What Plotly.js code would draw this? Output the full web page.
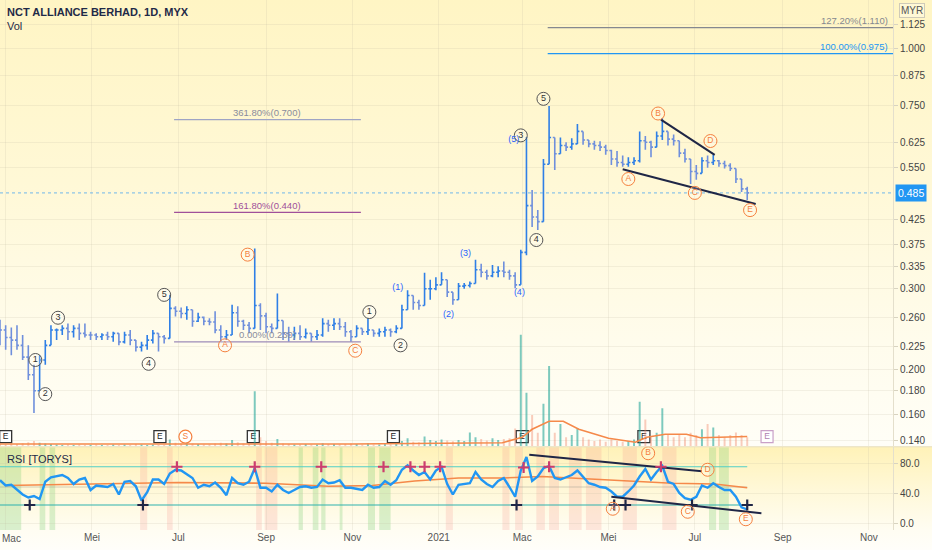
<!DOCTYPE html>
<html><head><meta charset="utf-8">
<script src="https://cdn.plot.ly/plotly-3.0.1.min.js"></script>
<style>
html,body{margin:0;padding:0;background:#fffefa;}
#chart{width:932px;height:550px;background:linear-gradient(to bottom,#fff5c4 0px,#fff8d6 180px,#fffcec 340px,#fffef7 446px,#fff2b8 447px,#fff8d8 490px,#fffdf2 530px,#fffefa 550px);}
</style></head><body><div id="chart"></div><script>
// ---- data ----
const barStepDays = 4; // sampled bars starting 26 Feb 2020
const priceHigh = [0.257,0.250,0.247,0.250,0.238,0.226,0.205,0.215,0.232,0.250,
0.246,0.250,0.252,0.250,0.252,0.252,0.242,0.240,0.240,0.242,
0.242,0.236,0.242,0.244,0.232,0.230,0.238,0.244,0.240,0.238,
0.291,0.275,0.273,0.275,0.270,0.266,0.261,0.259,0.268,0.250,
0.244,0.277,0.275,0.257,0.254,0.367,0.279,0.266,0.252,0.293,
0.250,0.248,0.248,0.250,0.246,0.240,0.244,0.259,0.257,0.259,
0.259,0.254,0.244,0.250,0.244,0.259,0.244,0.246,0.248,0.246,
0.250,0.277,0.298,0.289,0.284,0.325,0.314,0.318,0.326,0.309,
0.293,0.309,0.309,0.311,0.347,0.340,0.330,0.338,0.336,0.344,
0.330,0.326,0.365,0.642,0.492,0.445,0.575,0.750,0.632,0.640,
0.625,0.638,0.685,0.655,0.632,0.630,0.628,0.617,0.602,0.598,
0.585,0.580,0.580,0.660,0.645,0.630,0.660,0.705,0.650,0.650,
0.612,0.605,0.572,0.558,0.580,0.585,0.587,0.572,0.570,0.563,
0.544,0.518,0.500];
const priceLow = [0.226,0.221,0.215,0.221,0.210,0.190,0.161,0.182,0.205,0.226,
0.232,0.238,0.232,0.235,0.232,0.235,0.232,0.232,0.232,0.232,
0.230,0.226,0.228,0.226,0.219,0.219,0.221,0.228,0.219,0.228,
0.240,0.261,0.259,0.257,0.248,0.254,0.250,0.250,0.240,0.230,
0.232,0.238,0.248,0.244,0.240,0.250,0.244,0.240,0.240,0.248,
0.232,0.230,0.232,0.232,0.234,0.230,0.232,0.236,0.242,0.244,
0.244,0.236,0.230,0.240,0.238,0.238,0.236,0.236,0.236,0.236,
0.240,0.257,0.280,0.270,0.270,0.280,0.284,0.298,0.309,0.288,
0.277,0.298,0.300,0.302,0.314,0.318,0.314,0.318,0.318,0.318,
0.314,0.301,0.306,0.355,0.409,0.403,0.475,0.575,0.544,0.595,
0.598,0.602,0.628,0.617,0.610,0.602,0.598,0.587,0.558,0.553,
0.553,0.553,0.558,0.565,0.602,0.580,0.628,0.632,0.615,0.615,
0.580,0.565,0.507,0.518,0.553,0.550,0.558,0.553,0.548,0.541,
0.510,0.487,0.468];
const priceClose = [0.244,0.235,0.232,0.226,0.213,0.195,0.180,0.210,0.226,0.244,
0.244,0.246,0.242,0.246,0.240,0.238,0.238,0.236,0.238,0.236,
0.240,0.230,0.238,0.232,0.224,0.226,0.232,0.240,0.236,0.234,
0.272,0.268,0.265,0.270,0.255,0.260,0.255,0.254,0.244,0.236,
0.238,0.266,0.255,0.250,0.246,0.276,0.262,0.248,0.246,0.256,
0.240,0.238,0.240,0.236,0.240,0.236,0.238,0.252,0.250,0.252,
0.248,0.242,0.236,0.246,0.242,0.244,0.240,0.242,0.244,0.242,
0.246,0.270,0.290,0.280,0.276,0.300,0.300,0.306,0.314,0.295,
0.284,0.304,0.305,0.308,0.330,0.326,0.320,0.326,0.328,0.326,
0.320,0.306,0.360,0.455,0.430,0.420,0.560,0.640,0.590,0.615,
0.610,0.620,0.660,0.632,0.620,0.615,0.610,0.600,0.575,0.565,
0.560,0.565,0.570,0.630,0.625,0.610,0.645,0.660,0.635,0.630,
0.592,0.575,0.540,0.535,0.570,0.565,0.570,0.562,0.556,0.548,
0.520,0.495,0.485];
const firstOpen = 0.248;
const volume = [0.5,0.4,0.6,0.5,0.7,0.9,1.2,0.8,0.6,0.5,
0.4,0.3,0.4,0.3,0.4,0.3,0.3,0.4,0.3,0.3,
0.4,0.3,0.4,0.3,0.5,0.4,0.3,0.4,0.3,0.3,
1.5,0.8,0.6,0.7,0.6,0.5,0.4,0.4,0.6,0.8,
0.6,1.4,0.9,0.7,0.6,12.3,2.0,1.2,0.8,1.6,
0.6,0.5,0.4,0.4,0.5,0.4,0.4,0.7,0.5,0.5,
0.4,0.5,0.6,0.5,0.4,0.7,0.4,0.4,0.5,0.4,
0.5,1.2,1.8,1.0,0.9,2.2,1.4,1.2,1.5,1.3,
1.1,1.4,1.2,3.1,2.0,1.6,1.3,1.8,1.4,1.6,
1.8,4.0,25,12,7,3,9.5,18,3,5,
2,2.5,4,2,1.5,1.2,1.5,1,1.5,1.2,
1,1.2,1.5,10,6,2,3,8.5,2.5,2,
2.5,2,3,2.5,3.8,5,4.2,2.5,2,2.5,
3.1,2.5,2];
const volMaDates = ['2020-02-26','2020-11-01','2021-02-15','2021-03-01','2021-03-08','2021-03-20','2021-03-30','2021-04-10','2021-05-01','2021-05-20','2021-05-28','2021-06-10','2021-06-25','2021-07-05','2021-08-07'];
const volMaVals  = [0.5,0.5,0.8,2.0,3.8,5.6,5.6,3.8,1.8,0.9,2.0,2.7,2.7,1.9,2.2];
const rsi = [57,50,51,45,38,34,36,32,55,61,
63,64,60,52,58,60,44,50,49,48,
52,38,55,56,49,30,41,58,58,52,
66,71,70,65,60,47,51,49,54,47,
37,60,53,51,55,73,47,47,42,51,
44,40,44,48,49,47,48,58,53,54,
57,47,47,45,44,51,47,48,56,51,
57,71,77,70,64,68,58,70,75,52,
38,51,52,53,68,58,52,48,56,60,
48,35,70,88,56,62,73,76,60,58,
61,64,70,62,53,51,48,47,42,35,
35,42,50,62,72,58,68,76,55,52,
40,33,31,35,50,47,53,48,44,44,
35,21,18];
const rsiMaDates = ['2020-03-01','2020-05-01','2020-07-01','2020-09-01','2020-10-15','2020-11-15','2020-12-15','2021-01-15','2021-02-15','2021-03-15','2021-04-15','2021-05-15','2021-06-15','2021-07-15','2021-08-07'];
const rsiMaVals  = [50,52,54,53,49,50,56,60,60,62,59,56,53,52,47];
const rsiUpper = 75, rsiLower = 24, rsiMid = 48;
const redPlusDates = ['2020-06-30','2020-08-24','2020-10-10','2020-11-23','2020-12-12','2020-12-22','2021-01-02','2021-03-02','2021-03-20','2021-06-07'];
const redPlusVals  = [75,75,75,75,75,75,75,74,75,75];
const darkPlusDates = ['2020-03-18','2020-06-06','2021-02-25','2021-05-05','2021-05-13','2021-06-29','2021-08-07'];
const darkPlusVals  = [24,24,24,24,24,24,24];
const greenBands = [['2020-02-26','2020-03-12'],['2020-03-25','2020-03-29'],['2020-04-01','2020-04-05'],['2020-09-24','2020-09-27'],['2020-10-04','2020-10-08'],['2020-10-10','2020-10-13'],['2020-10-23','2020-10-25'],['2020-11-12','2020-11-17'],['2020-11-20','2020-11-28'],['2021-07-11','2021-07-16'],['2021-07-18','2021-07-25']];
const redBands = [['2020-06-04','2020-06-09'],['2020-06-23','2020-06-27'],['2020-08-25','2020-08-29'],['2020-08-31','2020-09-09'],['2021-01-06','2021-01-11'],['2021-02-15','2021-02-20'],['2021-02-24','2021-03-01'],['2021-03-11','2021-03-17'],['2021-03-20','2021-03-27'],['2021-04-03','2021-04-12'],['2021-04-15','2021-04-26'],['2021-05-11','2021-05-21'],['2021-06-08','2021-06-18']];
const waveGreyDates = ['2020-03-22','2020-03-29','2020-04-07','2020-06-10','2020-06-21','2020-11-13','2020-12-05','2021-02-28','2021-03-11','2021-03-16'];
const waveGreyPrices = [0.210,0.177,0.2595,0.206,0.291,0.267,0.226,0.647,0.383,0.777];
const waveGreyText = ['1','2','3','4','5','1','2','3','4','5'];
const waveOrangeDates = ['2020-08-03','2020-08-19','2020-11-03','2021-05-15','2021-06-05','2021-07-01','2021-07-12','2021-08-09'];
const waveOrangePrices = [0.226,0.356,0.220,0.520,0.722,0.485,0.629,0.445];
const waveOrangeText = ['A','B','C','A','B','C','D','E'];
const waveBlueDates = ['2020-12-03','2021-01-08','2021-01-20','2021-02-27','2021-02-23'];
const waveBluePrices = [0.302,0.263,0.358,0.294,0.632];
const waveBlueText = ['(1)','(2)','(3)','(4)','(5)'];
const rsiWaveDates = ['2021-05-04','2021-05-29','2021-06-26','2021-07-10','2021-08-06'];
const rsiWaveVals = [19,93,15,71,5];
const rsiWaveText = ['A','B','C','D','E'];
const upperTrendDates = ['2021-06-07','2021-07-15'], upperTrendPrices = [0.700,0.587];
const lowerTrendDates = ['2021-05-11','2021-08-13'], lowerTrendPrices = [0.546,0.459];
const rsiUpperTrendDates = ['2021-03-06','2021-07-06'], rsiUpperTrendVals = [91,69];
const rsiLowerTrendDates = ['2021-05-03','2021-08-17'], rsiLowerTrendVals = [35,13];
const fibLeftRange = ['2020-06-28','2020-11-07'];
const fibRightRange = ['2021-03-19','2021-11-18'];
const fibLeftLevels = [0.700,0.440,0.230];
const fibLeftText = ['361.80%(0.700)','161.80%(0.440)','0.00%(0.230)'];
const fibLeftColors = ['#9ea4c4','#a0509a','#9d8bb8'];
const fibRightLevels = [1.110,0.975];
const fibRightText = ['127.20%(1.110)','100.00%(0.975)'];
const fibRightColors = ['#85888f','#2196f3'];
const lastPrice = 0.485;
const earnDates = ['2020-03-01','2020-06-18','2020-08-23','2020-11-30','2021-03-01','2021-05-26'];
const earnFutureDates = ['2021-08-21'];
const splitDates = ['2020-07-06'];
const markerLevel = 0.143;
const monthTickVals = ['2020-03-01','2020-05-01','2020-07-01','2020-09-01','2020-11-01','2021-01-01','2021-03-01','2021-05-01','2021-07-01','2021-09-01','2021-11-01'];
const monthTickText = ['Mac','Mei','Jul','Sep','Nov','2021','Mac','Mei','Jul','Sep','Nov'];
const priceTicks = [0.140,0.160,0.180,0.200,0.225,0.260,0.300,0.335,0.375,0.425,0.550,0.625,0.750,0.875,1.000,1.125];
const xRange = ['2020-02-26','2021-11-18'];

// ---- derived ----
const dates = priceClose.map((_, i) => new Date(Date.UTC(2020, 1, 26 + i * barStepDays)).toISOString().slice(0, 10));
const priceOpen = priceClose.map((c, i) => i === 0 ? firstOpen : priceClose[i - 1]);
const hi = priceHigh.map((h, i) => Math.max(h, priceOpen[i]));
const lo = priceLow.map((l, i) => Math.min(l, priceOpen[i]));
const volColors = priceClose.map((c, i) => c >= priceOpen[i] ? 'rgba(38,166,154,0.6)' : 'rgba(239,130,100,0.4)');
const lastDate = dates[dates.length - 1];

const traces = [];
traces.push({type:'bar', x:dates, y:volume, xaxis:'x', yaxis:'y3', marker:{color:volColors}, width:1.4*86400000, hoverinfo:'skip'});
traces.push({type:'scatter', mode:'lines', x:volMaDates, y:volMaVals, xaxis:'x', yaxis:'y3', line:{color:'#f5894a', width:1.6}, hoverinfo:'skip'});
fibLeftLevels.forEach((v, k) => traces.push({type:'scatter', mode:'lines', x:fibLeftRange, y:[v, v], yaxis:'y', line:{color:fibLeftColors[k], width:1.2}, hoverinfo:'skip'}));
fibRightLevels.forEach((v, k) => traces.push({type:'scatter', mode:'lines', x:fibRightRange, y:[v, v], yaxis:'y', line:{color:fibRightColors[k], width:1.2}, hoverinfo:'skip'}));
traces.push({type:'scatter', mode:'lines', x:xRange, y:[lastPrice, lastPrice], yaxis:'y', line:{color:'#4aa6f0', width:0.8, dash:'dot'}, hoverinfo:'skip'});
traces.push({type:'ohlc', x:dates, open:priceOpen, high:hi, low:lo, close:priceClose, xaxis:'x', yaxis:'y',
  increasing:{line:{color:'#2f7fe6', width:1.6}}, decreasing:{line:{color:'#6f8fdc', width:1.6}}, tickwidth:0.35, hoverinfo:'skip'});
traces.push({type:'scatter', mode:'lines', x:upperTrendDates, y:upperTrendPrices, yaxis:'y', line:{color:'#1f2646', width:2}, hoverinfo:'skip'});
traces.push({type:'scatter', mode:'lines', x:lowerTrendDates, y:lowerTrendPrices, yaxis:'y', line:{color:'#1f2646', width:2}, hoverinfo:'skip'});
traces.push({type:'scatter', mode:'markers+text', x:waveGreyDates, y:waveGreyPrices, yaxis:'y', text:waveGreyText, textposition:'middle center',
  textfont:{size:9, color:'#333', family:'Liberation Sans, Arial'}, marker:{symbol:'circle', size:13, color:'rgba(255,255,255,0.2)', line:{color:'#555', width:1}}, hoverinfo:'skip'});
traces.push({type:'scatter', mode:'markers+text', x:waveOrangeDates, y:waveOrangePrices, yaxis:'y', text:waveOrangeText, textposition:'middle center',
  textfont:{size:8.5, color:'#f5803e', family:'Liberation Sans, Arial'}, marker:{symbol:'circle', size:13, color:'rgba(255,255,255,0.2)', line:{color:'#f5803e', width:1}}, hoverinfo:'skip'});
traces.push({type:'scatter', mode:'text', x:waveBlueDates, y:waveBluePrices, yaxis:'y', text:waveBlueText, textposition:'middle center',
  textfont:{size:9, color:'#2962ff', family:'Liberation Sans, Arial'}, hoverinfo:'skip'});
traces.push({type:'scatter', mode:'markers+text', x:earnDates, y:earnDates.map(() => markerLevel), yaxis:'y', text:earnDates.map(() => 'E'), textposition:'middle center',
  textfont:{size:8.5, color:'#222'}, marker:{symbol:'square', size:12, color:'#ffffff', line:{color:'#333', width:1.3}}, hoverinfo:'skip', cliponaxis:false});
traces.push({type:'scatter', mode:'markers+text', x:earnFutureDates, y:earnFutureDates.map(() => markerLevel), yaxis:'y', text:['E'], textposition:'middle center',
  textfont:{size:8.5, color:'#b07fb0'}, marker:{symbol:'square', size:12, color:'#ffffff', line:{color:'#c9a0c8', width:1.2}}, hoverinfo:'skip'});
traces.push({type:'scatter', mode:'markers+text', x:splitDates, y:splitDates.map(() => markerLevel), yaxis:'y', text:['S'], textposition:'middle center',
  textfont:{size:8.5, color:'#f5803e'}, marker:{symbol:'circle', size:13, color:'#ffffff', line:{color:'#f5803e', width:1.2}}, hoverinfo:'skip'});
[[rsiUpper,'#52cfc6',1.2],[rsiLower,'#2fb1ad',1.2],[rsiMid,'rgba(150,150,140,0.45)',1]].forEach(([v,c,w]) =>
  traces.push({type:'scatter', mode:'lines', x:[dates[0], lastDate], y:[v, v], yaxis:'y2', line:{color:c, width:w}, hoverinfo:'skip'}));
traces.push({type:'scatter', mode:'lines', x:rsiMaDates, y:rsiMaVals, yaxis:'y2', line:{color:'#f5894a', width:1.6}, hoverinfo:'skip'});
traces.push({type:'scatter', mode:'lines', x:dates, y:rsi, yaxis:'y2', line:{color:'#2196f3', width:2.4}, hoverinfo:'skip'});
traces.push({type:'scatter', mode:'lines', x:rsiUpperTrendDates, y:rsiUpperTrendVals, yaxis:'y2', line:{color:'#1f2646', width:2}, hoverinfo:'skip'});
traces.push({type:'scatter', mode:'lines', x:rsiLowerTrendDates, y:rsiLowerTrendVals, yaxis:'y2', line:{color:'#1f2646', width:2}, hoverinfo:'skip'});
traces.push({type:'scatter', mode:'markers', x:redPlusDates, y:redPlusVals, yaxis:'y2', marker:{symbol:'cross-thin', size:8, line:{color:'#cc3d6e', width:2.2}}, hoverinfo:'skip'});
traces.push({type:'scatter', mode:'markers', x:darkPlusDates, y:darkPlusVals, yaxis:'y2', marker:{symbol:'cross-thin', size:8, line:{color:'#1f2646', width:2.2}}, hoverinfo:'skip'});
traces.push({type:'scatter', mode:'markers+text', x:rsiWaveDates, y:rsiWaveVals, yaxis:'y2', text:rsiWaveText, textposition:'middle center',
  textfont:{size:8.5, color:'#f5803e'}, marker:{symbol:'circle', size:13, color:'rgba(255,255,255,0.2)', line:{color:'#f5803e', width:1}}, hoverinfo:'skip', cliponaxis:false});

const shapes = [];
greenBands.forEach(b => shapes.push({type:'rect', xref:'x', yref:'y2 domain', x0:b[0], x1:b[1], y0:0, y1:1, fillcolor:'rgba(120,205,110,0.28)', line:{width:0}, layer:'below'}));
redBands.forEach(b => shapes.push({type:'rect', xref:'x', yref:'y2 domain', x0:b[0], x1:b[1], y0:0, y1:1, fillcolor:'rgba(245,150,140,0.22)', line:{width:0}, layer:'below'}));
shapes.push({type:'line', xref:'paper', yref:'paper', x0:0, x1:1.044, y0:0.157, y1:0.157, line:{color:'#e6dfc4', width:1}});

const annotations = [
  {xref:'paper', yref:'paper', x:0.006, y:0.977, xanchor:'left', yanchor:'middle', showarrow:false, text:'<b>NCT ALLIANCE BERHAD, 1D, MYX</b>', font:{size:11, color:'#1f2a48', family:'Liberation Sans, Arial'}},
  {xref:'paper', yref:'paper', x:0.006, y:0.951, xanchor:'left', yanchor:'middle', showarrow:false, text:'Vol', font:{size:11, color:'#1f2a48', family:'Liberation Sans, Arial'}},
  {xref:'paper', yref:'paper', x:0.006, y:0.134, xanchor:'left', yanchor:'middle', showarrow:false, text:'RSI [TORYS]', font:{size:11, color:'#1f2a48', family:'Liberation Sans, Arial'}},
  {xref:'paper', yref:'paper', x:1.0213, y:0.981, xanchor:'center', yanchor:'middle', showarrow:false, text:'MYR', font:{size:10, color:'#555'}, bordercolor:'#cfcab8', borderwidth:1, borderpad:1, bgcolor:'rgba(255,255,255,0.3)'},
  {xref:'paper', yref:'y', x:1.002, y:Math.log10(lastPrice), xanchor:'left', yanchor:'middle', showarrow:false, text:lastPrice.toFixed(3), font:{size:10.5, color:'#ffffff'}, bgcolor:'#2196f3', borderpad:2},
  {xref:'paper', yref:'paper', x:0.0, y:-0.0015, xanchor:'left', yanchor:'top', showarrow:false, text:monthTickText[0], font:{size:10, color:'#555'}}
];
fibLeftLevels.forEach((v, k) => annotations.push({xref:'x', yref:'y', x:'2020-09-02', y:Math.log10(v), yshift:7, showarrow:false, text:fibLeftText[k], font:{size:9.5, color: k===1 ? '#a0509a' : '#8a8c9c'}}));
fibRightLevels.forEach((v, k) => annotations.push({xref:'x', yref:'y', x:'2021-11-16', xanchor:'right', y:Math.log10(v), yshift:7, showarrow:false, text:fibRightText[k], font:{size:9.5, color: fibRightColors[k]}}));

const grid = 'rgba(190,185,160,0.18)';
const layout = {
  width:932, height:550, margin:{l:0, r:39, t:0, b:20},
  paper_bgcolor:'rgba(0,0,0,0)', plot_bgcolor:'rgba(0,0,0,0)',
  showlegend:false, hovermode:false, dragmode:false,
  font:{family:'Liberation Sans, Arial, sans-serif', color:'#333'},
  xaxis:{type:'date', range:xRange, anchor:'y2', tickvals:monthTickVals, ticktext:monthTickText, tickfont:{size:10, color:'#555'},
    showgrid:true, gridcolor:grid, zeroline:false, showline:false, ticks:'', rangeslider:{visible:false}, fixedrange:true},
  yaxis:{domain:[0.158, 1], type:'log', range:[-0.8655, 0.1055], side:'right', anchor:'x', tickvals:priceTicks, ticktext:priceTicks.map(v => v.toFixed(3)),
    tickfont:{size:10, color:'#444'}, showgrid:true, gridcolor:grid, showline:true, linecolor:'#e4dfcc', ticks:'outside', ticklen:4, tickcolor:'#d8d3c0', zeroline:false, fixedrange:true},
  yaxis2:{domain:[0, 0.156], range:[-9.33, 100.9], side:'right', anchor:'x', tickvals:[0, 40, 80], ticktext:['0.0', '40.0', '80.0'],
    tickfont:{size:10, color:'#444'}, showgrid:true, gridcolor:grid, showline:true, linecolor:'#e4dfcc', ticks:'outside', ticklen:4, tickcolor:'#d8d3c0', zeroline:false, fixedrange:true},
  yaxis3:{overlaying:'y', anchor:'x', range:[0, 100], visible:false, fixedrange:true},
  shapes, annotations
};
Plotly.newPlot('chart', traces, layout, {staticPlot:true, displayModeBar:false});
</script></body></html>
